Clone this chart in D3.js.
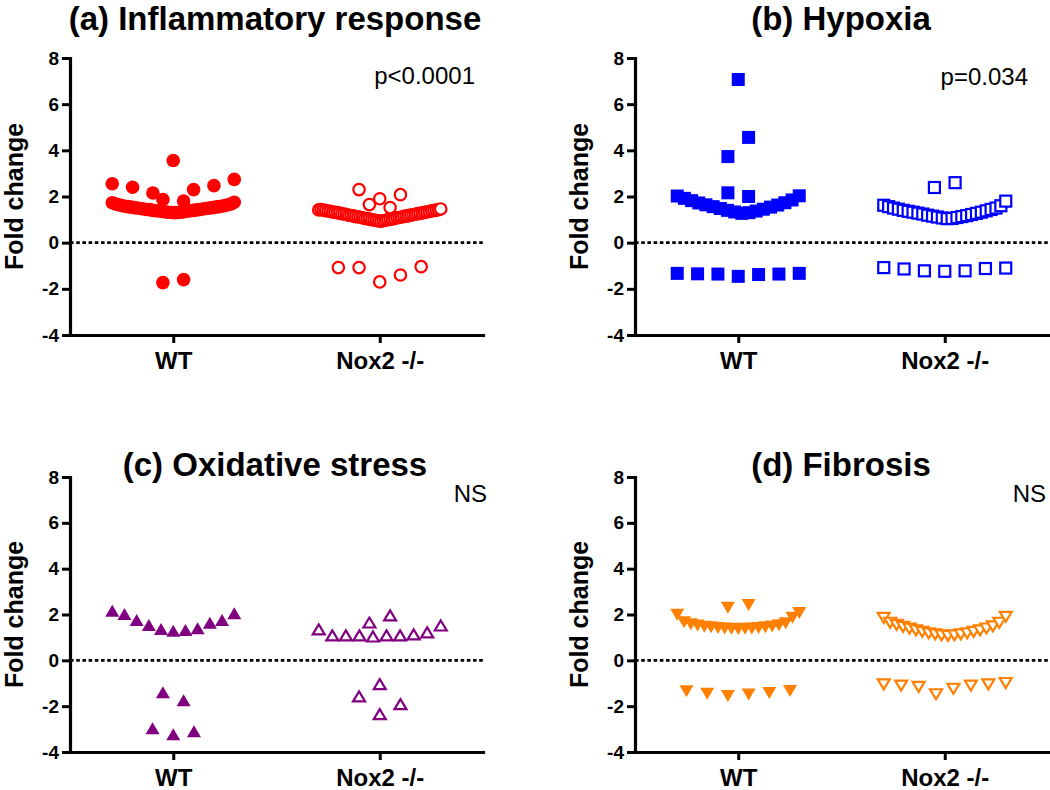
<!DOCTYPE html>
<html><head><meta charset="utf-8">
<script src="https://cdn.jsdelivr.net/npm/d3@7"></script>
<style>body{margin:0;background:#fff} svg{display:block}</style>
</head><body>
<svg id="chart" width="1050" height="790"></svg>
<script>
// ---------- data ----------
const categories = ["WT", "Nox2 -/-"];
const yTickValues = [-4, -2, 0, 2, 4, 6, 8];
const panelTitles = ["(a) Inflammatory response", "(b) Hypoxia", "(c) Oxidative stress", "(d) Fibrosis"];
const statLabels = ["p<0.0001", "p=0.034", "NS", "NS"];
const yAxisTitle = "Fold change";

// each group: rows of fold-change values, read left to right
const inflamWT = [
  [1.73, 1.68, 1.64, 1.61, 1.58, 1.56, 1.54, 1.52, 1.50, 1.48, 1.46, 1.44, 1.43, 1.40, 1.38, 1.37, 1.35, 1.33, 1.32, 1.31,
   1.30, 1.31, 1.32, 1.34, 1.36, 1.38, 1.40, 1.42, 1.44, 1.46, 1.48, 1.50, 1.52, 1.54, 1.56, 1.58, 1.61, 1.64, 1.68, 1.75],
  [-1.73, -1.60],
  [2.55, 2.40, 2.15, 3.56, 2.30, 2.47, 2.74],
  [1.87, 1.80]
];
const inflamKO = [
  [1.42, 1.44, 1.41, 1.39, 1.37, 1.36, 1.33, 1.32, 1.30, 1.28, 1.25, 1.24, 1.22, 1.19, 1.18, 1.16, 1.13, 1.12, 1.10, 1.08,
   1.05, 1.04, 1.02, 0.99, 0.98, 0.96, 0.94, 0.93, 0.95, 0.97, 0.99, 1.02, 1.03, 1.05, 1.08, 1.09, 1.11, 1.14, 1.15, 1.17,
   1.20, 1.21, 1.23, 1.26, 1.27, 1.29, 1.32, 1.33, 1.35, 1.38, 1.39, 1.41, 1.43, 1.46],
  [-1.08, -1.08, -1.70, -1.40, -1.04],
  [2.30, 1.90, 2.08],
  [1.65, 1.52]
];
const hypoxiaWT = [
  [2.02, 1.92, 1.82, 1.72, 1.64, 1.56, 1.48, 1.40, 1.33, 1.27, 1.30, 1.37, 1.45, 1.54, 1.63, 1.73, 1.85, 2.03],
  [-1.33, -1.35, -1.36, -1.46, -1.38, -1.36, -1.33],
  [2.16, 2.00],
  [3.73, 4.56],
  [7.07]
];
const hypoxiaKO = [
  [1.62, 1.56, 1.50, 1.45, 1.40, 1.36, 1.32, 1.28, 1.24, 1.19, 1.15, 1.11, 1.07, 1.04, 1.05, 1.09, 1.13, 1.17, 1.22, 1.27,
   1.32, 1.38, 1.44, 1.50, 1.60, 1.80],
  [-1.08, -1.14, -1.22, -1.24, -1.22, -1.12, -1.10],
  [2.39, 2.60]
];
const oxidWT = [
  [2.16, 2.02, 1.76, 1.54, 1.37, 1.29, 1.32, 1.40, 1.64, 1.76, 2.05],
  [-1.39, -1.74],
  [-2.96, -3.22, -3.09]
];
const oxidKO = [
  [1.35, 1.09, 1.09, 1.09, 1.04, 1.09, 1.09, 1.13, 1.22, 1.52],
  [1.65, 1.96],
  [-1.57, -1.04, -1.91],
  [-2.35]
];
const fibroWT = [
  [1.99, 1.66, 1.58, 1.52, 1.47, 1.44, 1.41, 1.39, 1.38, 1.37, 1.38, 1.39, 1.41, 1.44, 1.48, 1.53, 1.62, 1.86, 2.07],
  [-1.35, -1.46, -1.56, -1.49, -1.42, -1.34],
  [2.29, 2.42]
];
const fibroKO = [
  [1.85, 1.64, 1.55, 1.46, 1.38, 1.31, 1.24, 1.18, 1.13, 1.09, 1.07, 1.09, 1.13, 1.18, 1.24, 1.31, 1.39, 1.48, 1.64, 1.90],
  [-1.05, -1.10, -1.16, -1.48, -1.24, -1.10, -1.05, -0.99]
];

// ---------- layout / style ----------
const FONT = "'Liberation Sans', Arial, Helvetica, sans-serif";
const panels = [
  {title: panelTitles[0], stat: statLabels[0], groups: [inflamWT, inflamKO], color: "#ff0000", shape: "circle",
   x0: 70, x1: 483, yTop: 58, yBot: 335, titleX: 275, titleY: 30, statX: 475, statY: 84, labelX: 23},
  {title: panelTitles[1], stat: statLabels[1], groups: [hypoxiaWT, hypoxiaKO], color: "#0000ff", shape: "square",
   x0: 635, x1: 1048, yTop: 58, yBot: 335, titleX: 841, titleY: 30, statX: 1028, statY: 85, labelX: 588},
  {title: panelTitles[2], stat: statLabels[2], groups: [oxidWT, oxidKO], color: "#800080", shape: "triUp",
   x0: 70, x1: 483, yTop: 477, yBot: 752, titleX: 275, titleY: 476, statX: 487, statY: 502, labelX: 23},
  {title: panelTitles[3], stat: statLabels[3], groups: [fibroWT, fibroKO], color: "#ff8000", shape: "triDown",
   x0: 635, x1: 1048, yTop: 477, yBot: 752, titleX: 841, titleY: 476, statX: 1046, statY: 502, labelX: 588}
];
const MAX_STEP = 20.7, MAX_WIDTH = 122;

const svg = d3.select("#chart");

function drawMarker(g, shape, filled, color) {
  const sw = 2.2;
  if (shape === "circle") {
    g.append("circle").attr("r", filled ? 6.8 : 5.7);
  } else if (shape === "square") {
    const s = filled ? 13 : 11;
    g.append("rect").attr("x", -s / 2).attr("y", -s / 2).attr("width", s).attr("height", s);
  } else {
    const w = filled ? 14 : 12, h = filled ? 12 : 10;
    const p = shape === "triUp"
      ? `M0,${-h / 2}L${w / 2},${h / 2}L${-w / 2},${h / 2}Z`
      : `M0,${h / 2}L${w / 2},${-h / 2}L${-w / 2},${-h / 2}Z`;
    g.append("path").attr("d", p).attr("stroke-linejoin", "miter");
  }
  g.selectAll("*")
    .attr("fill", filled ? color : "#fff")
    .attr("stroke", filled ? "none" : color)
    .attr("stroke-width", filled ? 0 : sw);
}

panels.forEach(P => {
  const y = d3.scaleLinear().domain([-4, 8]).range([P.yBot, P.yTop]);
  const x = d3.scalePoint().domain(categories).range([P.x0, P.x1]).padding(0.5);
  const g = svg.append("g");

  // zero reference line
  g.append("line")
    .attr("x1", P.x0).attr("x2", P.x1).attr("y1", y(0)).attr("y2", y(0))
    .attr("stroke", "#000").attr("stroke-width", 2.6).attr("stroke-dasharray", "3.6,2.6");

  // points
  P.groups.forEach((rows, gi) => {
    const cx = x(categories[gi]);
    const filled = gi === 0;
    rows.forEach(row => {
      const n = row.length;
      const step = n > 1 ? Math.min(MAX_STEP, MAX_WIDTH / (n - 1)) : 0;
      row.forEach((v, i) => {
        const mg = g.append("g")
          .attr("transform", `translate(${cx + (i - (n - 1) / 2) * step},${y(v)})`);
        drawMarker(mg, P.shape, filled, P.color);
      });
    });
  });

  // axes
  const ya = g.append("g").attr("transform", `translate(${P.x0},0)`)
    .call(d3.axisLeft(y).tickValues(yTickValues).tickFormat(d => String(d))
      .tickSize(8).tickSizeOuter(0).tickPadding(3));
  const xa = g.append("g").attr("transform", `translate(0,${P.yBot})`)
    .call(d3.axisBottom(x).tickSize(8).tickSizeOuter(0).tickPadding(9));
  [ya, xa].forEach(a => {
    a.select(".domain").attr("stroke", "#000").attr("stroke-width", 3.2).attr("stroke-linecap", "square");
    a.selectAll(".tick line").attr("stroke", "#000").attr("stroke-width", 3);
    a.selectAll("text").attr("fill", "#000").attr("font-family", FONT).attr("font-weight", "bold");
  });
  ya.selectAll("text").attr("font-size", 19);
  xa.selectAll("text").attr("font-size", 24);

  // y axis title
  g.append("text")
    .attr("transform", `translate(${P.labelX},${(P.yTop + P.yBot) / 2}) rotate(-90)`)
    .attr("text-anchor", "middle").attr("font-family", FONT).attr("font-weight", "bold")
    .attr("font-size", 25).text(yAxisTitle);

  // panel title
  g.append("text").attr("x", P.titleX).attr("y", P.titleY)
    .attr("text-anchor", "middle").attr("font-family", FONT).attr("font-weight", "bold")
    .attr("font-size", 33).text(P.title);

  // statistic
  g.append("text").attr("x", P.statX).attr("y", P.statY)
    .attr("text-anchor", "end").attr("font-family", FONT)
    .attr("font-size", 24).text(P.stat);
});
</script>
</body></html>
